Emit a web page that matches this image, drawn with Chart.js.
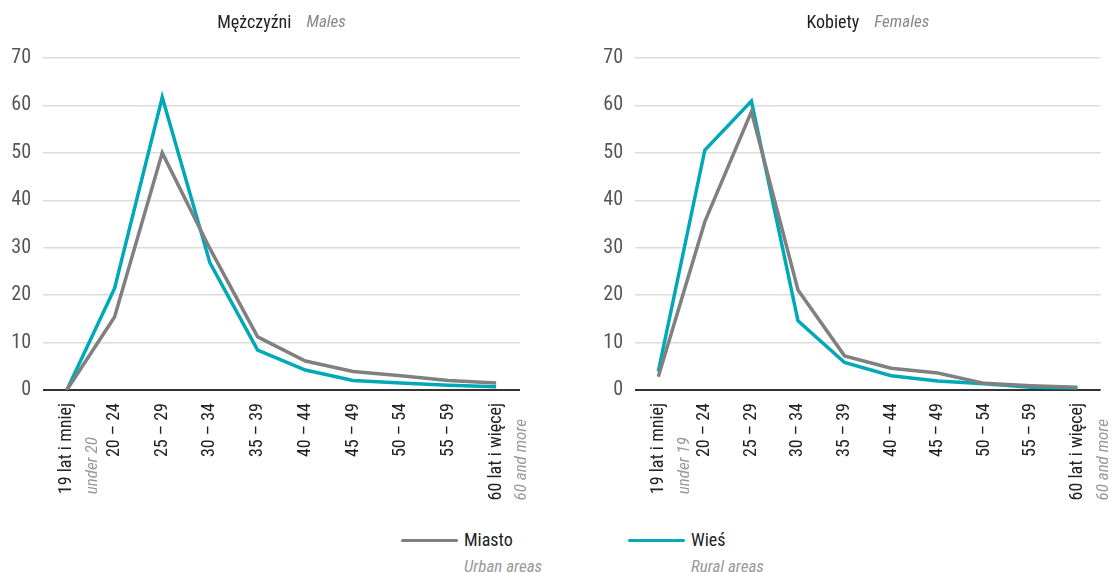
<!DOCTYPE html>
<html><head><meta charset="utf-8">
<script src="https://cdn.jsdelivr.net/npm/chart.js@4.4.1/dist/chart.umd.min.js"></script>
<style>
html,body{margin:0;padding:0;background:#fff;width:1112px;height:572px;overflow:hidden;position:relative;font-family:'Roboto Condensed',sans-serif;}
.c{position:absolute;top:0;width:556px;height:520px;}
.leg{position:absolute;font-size:18px;color:#222;}
.leg .ln{position:absolute;height:3px;width:57px;border-radius:2px;}
.leg .sub{position:absolute;font-style:italic;color:#999;white-space:nowrap;}
</style></head><body>
<div class="c" style="left:0"><canvas id="m"></canvas></div>
<div class="c" style="left:556px"><canvas id="f"></canvas></div>
<div class="leg" id="legend"></div>
<script>
const FONT = "'Roboto Condensed',sans-serif";
const categories = ['19 lat i mniej','20 – 24','25 – 29','30 – 34','35 – 39','40 – 44','45 – 49','50 – 54','55 – 59','60 lat i więcej'];
const subLabelsMales = ['under 20','60 and more'];
const subLabelsFemales = ['under 19','60 and more'];
const malesUrban = [0, 15.4, 50.0, 29.8, 11.2, 6.1, 3.9, 3.0, 2.0, 1.5];
const malesRural = [0, 21.4, 61.7, 26.8, 8.4, 4.2, 2.0, 1.5, 1.0, 0.7];
const femalesUrban = [2.8, 35.5, 58.7, 21.1, 7.2, 4.6, 3.6, 1.4, 0.9, 0.6];
const femalesRural = [3.9, 50.6, 60.9, 14.6, 5.8, 3.0, 1.9, 1.3, 0.6, 0.4];
const yTicks = [0,10,20,30,40,50,60,70];
const seriesNames = ['Miasto','Wieś'];
const seriesNamesEn = ['Urban areas','Rural areas'];
const titles = [['Mężczyźni','Males'],['Kobiety','Females']];
const GRAY = '#808080', TEAL = '#00a9b7';
const TICK_SIZE = 18, SUB_SIZE = 17, TICK_PAD = 13;

function makeChart(id, urban, rural, title, subs, padLeft, padRight){
  const titlePlugin = {
    id:'t'+id,
    afterDraw(chart){
      const ctx = chart.ctx, a = chart.chartArea;
      ctx.save();
      ctx.font = "18px " + FONT;
      const w1 = ctx.measureText(title[0]).width;
      ctx.font = "italic 17px " + FONT;
      const w2 = ctx.measureText(title[1]).width;
      const gap = 15, total = w1 + gap + w2;
      const cx = (a.left + a.right)/2, x0 = cx - total/2, y = 23;
      ctx.textBaseline = 'middle'; ctx.textAlign = 'left';
      ctx.font = "18px " + FONT; ctx.fillStyle = '#222';
      ctx.fillText(title[0], x0, y);
      ctx.font = "italic 17px " + FONT; ctx.fillStyle = '#888';
      ctx.fillText(title[1], x0 + w1 + gap, y);
      const xs = chart.scales.x;
      const idx = [0, categories.length-1];
      idx.forEach((ci, k) => {
        ctx.font = TICK_SIZE + "px " + FONT;
        const mw = ctx.measureText(categories[ci]).width;
        const yStart = xs.top + TICK_PAD + mw;
        const px = xs.getPixelForTick(ci) + 26;
        ctx.save();
        ctx.translate(px, yStart);
        ctx.rotate(-Math.PI/2);
        ctx.font = "italic " + SUB_SIZE + "px " + FONT; ctx.fillStyle = '#999';
        ctx.textAlign = 'left'; ctx.textBaseline = 'middle';
        ctx.fillText(subs[k], 0, 0);
        ctx.restore();
      });
      ctx.restore();
    }
  };
  return new Chart(document.getElementById(id), {
    type:'line',
    data:{labels:categories, datasets:[
      {label:seriesNames[0], data:urban, borderColor:GRAY, borderWidth:3.5, pointRadius:0, tension:0, borderJoinStyle:'miter'},
      {label:seriesNames[1], data:rural, borderColor:TEAL, borderWidth:3.5, pointRadius:0, tension:0, borderJoinStyle:'miter'}
    ]},
    options:{
      responsive:true, maintainAspectRatio:false, animation:false,
      layout:{padding:{top:58,left:padLeft,right:padRight,bottom:0}},
      plugins:{legend:{display:false}, title:{display:false}, tooltip:{enabled:false}},
      scales:{
        x:{offset:true,
          grid:{display:false, drawTicks:false}, border:{display:false},
          ticks:{color:'#222', font:{family:FONT,size:TICK_SIZE}, minRotation:90, maxRotation:90, padding:TICK_PAD, autoSkip:false},
          afterFit(s){ s.height = 130; }
        },
        y:{min:0,max:70,
          afterBuildTicks(s){ s.ticks = yTicks.map(v=>({value:v})); },
          grid:{drawTicks:false, color:c=> c.tick && c.tick.value===0 ? '#333' : '#dcdcdc', lineWidth:c=> c.tick && c.tick.value===0 ? 2 : 1.5},
          border:{display:false},
          ticks:{color:'#555', font:{family:FONT,size:20}, padding:12},
          afterFit(s){ s.width = 43; }
        }
      }
    },
    plugins:[titlePlugin]
  });
}
makeChart('m', malesUrban, malesRural, titles[0], subLabelsMales, 0, 36);
makeChart('f', femalesUrban, femalesRural, titles[1], subLabelsFemales, 36, 0);

const leg = document.getElementById('legend');
leg.style.left='0'; leg.style.top='0';
const legPos = [[401, GRAY],[628, TEAL]];
legPos.forEach(([x,col],i)=>{
  const ln = document.createElement('div'); ln.className='ln';
  ln.style.left = x+'px'; ln.style.top='539px'; ln.style.background=col; leg.appendChild(ln);
  const t = document.createElement('div'); t.style.position='absolute';
  t.style.left=(x+63)+'px'; t.style.top='529px'; t.style.lineHeight='22px'; t.textContent=seriesNames[i]; leg.appendChild(t);
  const s = document.createElement('div'); s.className='sub';
  s.style.left=(x+63)+'px'; s.style.top='555px'; s.style.lineHeight='22px'; s.style.fontSize='17px'; s.textContent=seriesNamesEn[i]; leg.appendChild(s);
});
</script>
</body></html>
